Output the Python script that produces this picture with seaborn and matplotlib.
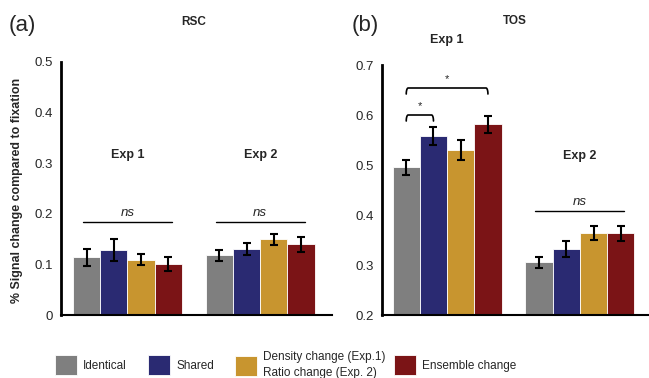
import numpy as np
import pandas as pd
import seaborn as sns
import matplotlib.pyplot as plt
from matplotlib.patches import Patch

# data
experiments = ['Exp 1', 'Exp 2']
conditions = ['Identical', 'Shared', 'Density', 'Ensemble']
legend_labels = ['Identical', 'Shared', 'Density change (Exp.1)\nRatio change (Exp. 2)', 'Ensemble change']
colors = ['#7f7f7f', '#2a2a72', '#c8952f', '#7b1416']

rsc_exp1 = [0.114, 0.128, 0.109, 0.100]
rsc_exp1_err = [0.017, 0.022, 0.011, 0.014]
rsc_exp2 = [0.118, 0.130, 0.150, 0.140]
rsc_exp2_err = [0.011, 0.012, 0.011, 0.015]

tos_exp1 = [0.496, 0.558, 0.530, 0.582]
tos_exp1_err = [0.015, 0.017, 0.020, 0.017]
tos_exp2 = [0.306, 0.332, 0.364, 0.364]
tos_exp2_err = [0.011, 0.016, 0.014, 0.015]


def make_df(m1, e1, m2, e2):
    rows = []
    for exp, means, errs in zip(experiments, [m1, m2], [e1, e2]):
        for cond, m, e in zip(conditions, means, errs):
            rows.append({'exp': exp, 'cond': cond, 'mean': m, 'err': e})
    return pd.DataFrame(rows)


sns.set_theme(style='white')
plt.rcParams['font.family'] = ['Liberation Sans', 'DejaVu Sans']

W, H = 649, 378
fig = plt.figure(figsize=(W / 100, H / 100), dpi=100)


def px_axes(x0, y0, x1, y1):
    # pixel box (top-left origin) -> figure fraction
    return fig.add_axes([x0 / W, 1 - y1 / H, (x1 - x0) / W, (y1 - y0) / H])


def draw_panel(ax, df, ylim, yticks, xlim):
    sns.barplot(data=df, x='exp', y='mean', hue='cond', hue_order=conditions,
                order=experiments, palette=colors, saturation=1, errorbar=None,
                width=0.82, legend=False, ax=ax, edgecolor='white', linewidth=0.6)
    for cont, cond in zip(ax.containers, conditions):
        sub = df[df['cond'] == cond].set_index('exp').loc[experiments]
        xs = [b.get_x() + b.get_width() / 2 for b in cont]
        ax.errorbar(xs, sub['mean'], yerr=sub['err'], fmt='none', ecolor='black',
                    elinewidth=1.5, capsize=3, capthick=1.5)
    ax.set_ylim(*ylim)
    ax.set_xlim(*xlim)
    ax.set_yticks(yticks)
    ax.set_yticklabels([('%g' % t) for t in yticks], fontsize=9.5)
    ax.set_xticks([])
    ax.set_xlabel('')
    ax.set_ylabel('')
    ax.tick_params(axis='y', length=0, pad=6)
    for s in ['top', 'right']:
        ax.spines[s].set_visible(False)
    ax.spines['left'].set_linewidth(2)
    ax.spines['bottom'].set_linewidth(1.5)
    ax.spines['left'].set_color('black')
    ax.spines['bottom'].set_color('black')
    ax.set_facecolor('white')


def ns_line(ax, xc, y, half=0.335):
    ax.plot([xc - half, xc + half], [y, y], color='black', lw=1)
    ax.text(xc, y + 0.006, 'ns', style='italic', ha='center', va='bottom', fontsize=9.5)


def bracket(ax, x0, x1, y, drop, r=0.014):
    t = np.linspace(0, np.pi / 2, 10)
    left_x = x0 + r * (1 - np.cos(t))
    left_y = y - drop * (1 - np.sin(t))
    right_x = x1 - r * (1 - np.cos(t[::-1]))
    right_y = y - drop * (1 - np.sin(t[::-1]))
    ax.plot(np.r_[left_x, right_x], np.r_[left_y, right_y], color='black', lw=1.2)
    ax.text((x0 + x1) / 2, y + drop * 0.6, '*', ha='center', va='bottom', fontsize=8)


# (a) RSC
ax1 = px_axes(61, 62, 332, 315)
draw_panel(ax1, make_df(rsc_exp1, rsc_exp1_err, rsc_exp2, rsc_exp2_err),
           (0, 0.5), [0, 0.1, 0.2, 0.3, 0.4, 0.5], (-0.5, 1.54))
ns_line(ax1, 0, 0.184)
ns_line(ax1, 1, 0.184)
ax1.text(0, 0.316, 'Exp 1', ha='center', va='center', fontsize=9, weight='bold')
ax1.text(1, 0.316, 'Exp 2', ha='center', va='center', fontsize=9, weight='bold')

# (b) TOS
ax2 = px_axes(382, 65, 649, 315)
draw_panel(ax2, make_df(tos_exp1, tos_exp1_err, tos_exp2, tos_exp2_err),
           (0.2, 0.7), [0.2, 0.3, 0.4, 0.5, 0.6, 0.7], (-0.49, 1.52))
ns_line(ax2, 1, 0.408)
c = [b.get_x() + b.get_width() / 2 for b in (ax2.containers[i][0] for i in range(4))]
bracket(ax2, c[0], c[1], 0.600, 0.012)
bracket(ax2, c[0], c[3], 0.654, 0.012)
ax2.text(0, 0.75, 'Exp 1', ha='center', va='center', fontsize=9, weight='bold', clip_on=False)
ax2.text(1, 0.518, 'Exp 2', ha='center', va='center', fontsize=9, weight='bold')

# titles and panel letters
fig.text(194 / W, 1 - 22 / H, 'RSC', ha='center', va='center', fontsize=8.5, weight='bold')
fig.text(515 / W, 1 - 21 / H, 'TOS', ha='center', va='center', fontsize=8.5, weight='bold')
fig.text(9 / W, 1 - 26 / H, '(a)', ha='left', va='center', fontsize=16)
fig.text(352 / W, 1 - 26 / H, '(b)', ha='left', va='center', fontsize=16)
fig.text(17 / W, 1 - 190 / H, '% Signal change compared to fixation', rotation=90,
         ha='center', va='center', fontsize=8.9, weight='bold')

# legend, one entry per slot so each box sits where it is in the original
legend_x = [55, 148, 235, 394]
for col, lab, lx in zip(colors, legend_labels, legend_x):
    h = Patch(facecolor=col, edgecolor='white', linewidth=0.6)
    leg = fig.legend([h], [lab], loc='center left', bbox_to_anchor=(lx / W, 1 - 365 / H),
                     frameon=False, handlelength=1.9, handleheight=2.3,
                     handletextpad=0.5, borderpad=0, borderaxespad=0, fontsize=8.5)
    for t in leg.get_texts():
        t.set_linespacing(1.45)

fig.savefig('out.png', dpi=100)
